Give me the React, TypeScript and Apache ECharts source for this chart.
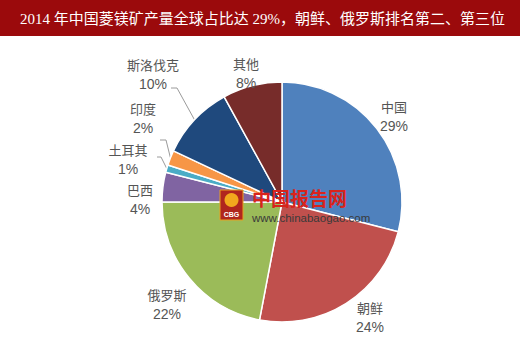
import React, { useEffect, useRef } from "react";
import * as echarts from "echarts";

const TITLE = "2014 年中国菱镁矿产量全球占比达 29%，朝鲜、俄罗斯排名第二、第三位";
const COUNTRIES = ["中国", "朝鲜", "俄罗斯", "巴西", "土耳其", "印度", "斯洛伐克", "其他"];
const SHARES = [29, 24, 22, 4, 1, 2, 10, 8];
const COLORS = ["#4f81bd", "#c0504d", "#9bbb59", "#8064a2", "#4bacc6", "#f79646", "#1f497d", "#772c2a"];

// label placement (centre of the two-line label) and leader-line elbows
const CENTER = [282, 202];
const RADIUS = 120;
const LABEL_POS: [number, number][] = [
  [394, 116],
  [370, 317],
  [167, 304],
  [140, 199],
  [128, 159],
  [143, 118],
  [153, 74],
  [246, 73],
];
const LEADERS: Record<number, [number, number][]> = {
  4: [[161, 157], [157, 157]],
  5: [[166, 140], [160, 140]],
  6: [[177, 88], [171, 88]],
};

export default function App() {
  const ref = useRef<HTMLDivElement>(null);
  useEffect(() => {
    if (!ref.current) return;
    const chart = echarts.init(ref.current, undefined, { renderer: "svg" });
    const total = SHARES.reduce((a, b) => a + b, 0);
    const midAngles: number[] = [];
    let acc = 0;
    SHARES.forEach((v) => {
      const mid = acc + v / 2;
      midAngles.push(((90 - (mid / total) * 360) * Math.PI) / 180);
      acc += v;
    });
    const Z = 100;
    chart.setOption({
      animation: false,
      backgroundColor: "#ffffff",
      graphic: [
        {
          type: "rect",
          shape: { x: 0, y: 0, width: 520, height: 36 },
          style: { fill: "#9b0a0c" },
          z: 10,
        },
        {
          type: "text",
          x: 20,
          y: 19,
          z: 11,
          style: {
            text: TITLE,
            fill: "#ffffff",
            font: '15px "Liberation Serif", "Noto Sans CJK SC"',
            textVerticalAlign: "middle",
            textAlign: "left",
          },
        },
        {
          type: "rect",
          z: Z,
          shape: { x: 220, y: 190, width: 23, height: 30 },
          style: { fill: "#b0261e", stroke: "#e8a020", lineWidth: 1 },
        },
        {
          type: "circle",
          z: Z + 1,
          shape: { cx: 231.5, cy: 200, r: 7 },
          style: { fill: "#f2a81d" },
        },
        {
          type: "text",
          z: Z + 1,
          x: 231.5,
          y: 214,
          style: {
            text: "CBG",
            fill: "#ffffff",
            font: 'bold 7px "Liberation Sans"',
            textAlign: "center",
            textVerticalAlign: "middle",
          },
        },
        {
          type: "text",
          z: Z,
          x: 252,
          y: 197,
          style: {
            text: "中国报告网",
            fill: "#d9231b",
            font: 'bold 19px "Noto Sans CJK SC"',
            textVerticalAlign: "middle",
          },
        },
        {
          type: "text",
          z: Z,
          x: 252,
          y: 218,
          style: {
            text: "www.chinabaogao.com",
            fill: "#3a3a3a",
            font: '11.5px "Liberation Sans"',
            textVerticalAlign: "middle",
          },
        },
      ],
      series: [
        {
          type: "pie",
          center: CENTER,
          radius: [0, RADIUS],
          startAngle: 90,
          clockwise: true,
          avoidLabelOverlap: false,
          itemStyle: { borderColor: "#ffffff", borderWidth: 1.5 },
          label: {
            show: true,
            position: "outside",
            formatter: "{n|{b}}\n{p|{c}%}",
            align: "center",
            rich: {
              n: {
                fontFamily: '"Noto Sans CJK SC"',
                fontSize: 13,
                color: "#555555",
                lineHeight: 19,
                align: "center",
              },
              p: {
                fontFamily: '"Liberation Sans", Arial',
                fontSize: 14,
                color: "#555555",
                lineHeight: 19,
                align: "center",
              },
            },
          },
          labelLine: { show: true, lineStyle: { color: "#9a9a9a", width: 1 } },
          labelLayout: (params: any) => {
            const i = params.dataIndex;
            const [x, y] = LABEL_POS[i];
            const out: any = { x, y, align: "center", verticalAlign: "middle" };
            const leg = LEADERS[i];
            if (leg) {
              const a = midAngles[i];
              const sx = CENTER[0] + RADIUS * Math.cos(a);
              const sy = CENTER[1] - RADIUS * Math.sin(a);
              out.labelLinePoints = [[sx, sy], leg[0], leg[1]];
            }
            return out;
          },
          data: COUNTRIES.map((name, i) => ({
            name,
            value: SHARES[i],
            itemStyle: { color: COLORS[i] },
            labelLine: { show: !!LEADERS[i] },
          })),
        },
      ],
    });
    return () => chart.dispose();
  }, []);
  return (
    <div
      ref={ref}
      style={{ position: "fixed", left: 0, top: 0, width: 520, height: 342 }}
    />
  );
}
